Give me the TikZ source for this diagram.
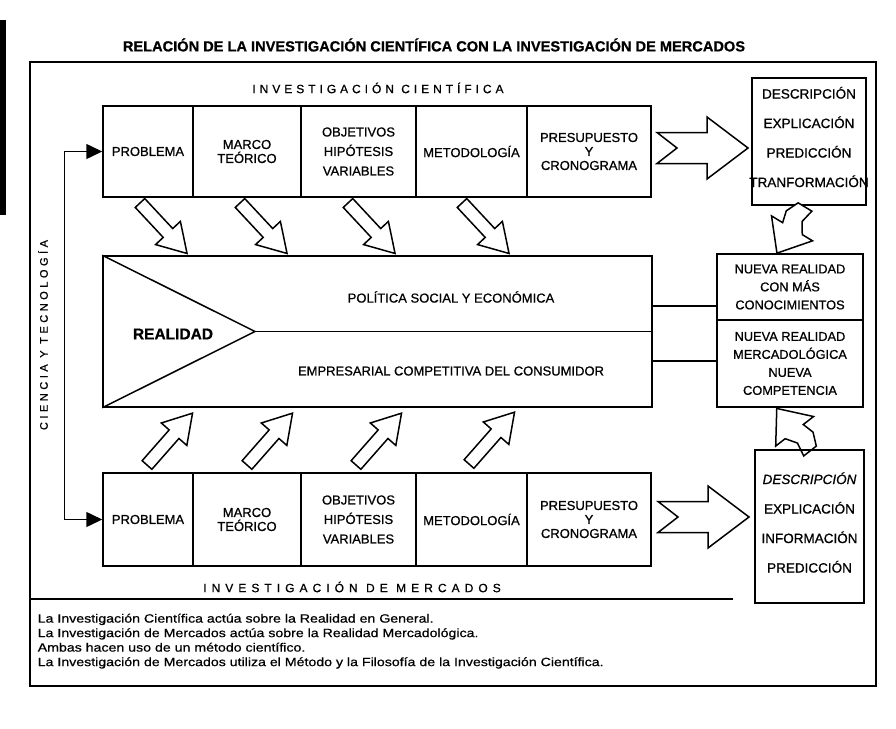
\documentclass[tikz,border=0pt]{standalone}
\usepackage{fontspec}
\setmainfont[FakeBold=0.8]{Liberation Sans}
\newfontfamily\footfont[FakeStretch=1.18,FakeBold=0.6]{Liberation Sans}
\newfontfamily\widefont[LetterSpace=33,FakeBold=0.8]{Liberation Sans}
\newfontfamily\widerfont[LetterSpace=42,FakeBold=0.8]{Liberation Sans}
\newfontfamily\sidefont[LetterSpace=32,FakeBold=0.8]{Liberation Sans}
\usetikzlibrary{arrows.meta}

\tikzset{
  cell/.style={draw,line width=1.5pt,inner sep=0pt,align=center,font=\fontsize{13}{14}\selectfont},
  arrowline/.style={draw,fill=white,line width=1.5pt,line join=miter},
  hollowarrow/.pic={\draw[arrowline] (0,-6.5) -- (41,-6.5) -- (41,-17) -- (69,0) -- (41,17) -- (41,6.5) -- (0,6.5) -- cycle;},
  bigarrow/.pic={\draw[arrowline] (0,-15.5) -- (50,-15.5) -- (50,-31) -- (91,0) -- (50,31) -- (50,15.5) -- (0,15.5) -- (20,0) -- cycle;},
  jagarrow/.pic={\draw[arrowline] (0,-8) -- (14,-5) -- (25,-12) -- (25,-24) -- (54,0) -- (25,24) -- (25,11) -- (13,14) -- (0,8) -- cycle;}
}

\begin{document}
\begin{tikzpicture}[x=1pt,y=-1pt,line width=1.5pt]
  \useasboundingbox (0,0) rectangle (896,728);
  \fill (0,20) rectangle (6,215);

  \node[font=\fontsize{14.6}{17}\selectfont\bfseries] (title) at (434,45) {RELACIÓN DE LA INVESTIGACIÓN CIENTÍFICA CON LA INVESTIGACIÓN DE MERCADOS};
  \draw (30,62) rectangle (876,686);

  \node[font=\widefont\fontsize{12}{14}\selectfont] (ic) at (378,88) {INVESTIGACIÓN CIENTÍFICA};
  \node[font=\sidefont\fontsize{11}{13}\selectfont,rotate=90] (cyt) at (43,335) {CIENCIA Y TECNOLOGÍA};

  % investigacion cientifica
  \node[cell,minimum width=90,minimum height=91] (p1) at (148,151.5) {PROBLEMA};
  \node[cell,minimum width=108,minimum height=91] (p2) at (247,151.5) {MARCO\\TEÓRICO};
  \node[cell,minimum width=115,minimum height=91] (p3) at (358.5,151.5) {OBJETIVOS\\[5.5pt]HIPÓTESIS\\[5.5pt]VARIABLES};
  \node[cell,minimum width=111,minimum height=91] (p4) at (471.5,151.5) {METODOLOGÍA};
  \node[cell,minimum width=124,minimum height=91] (p5) at (589,151.5) {PRESUPUESTO\\Y\\CRONOGRAMA};

  \node[cell,minimum width=114,minimum height=127] (tr) at (809,141.5) {};
  \node[align=center,font=\fontsize{13.5}{14}\selectfont] (trtext) at ([yshift=4.5]tr.center) {DESCRIPCIÓN\\[15.5pt]EXPLICACIÓN\\[15.5pt]PREDICCIÓN\\[15.5pt]TRANFORMACIÓN};
  \pic at (657,148) {bigarrow};

  % realidad
  \node[draw,minimum width=549,minimum height=151,inner sep=0pt] (real) at (377.5,331.5) {};
  \coordinate (apex) at (255,331.5);
  \draw (real.north west) -- (apex) -- (real.south west);
  \draw (apex) -- (real.east |- apex);
  \node[font=\fontsize{15.5}{17}\selectfont\bfseries] (rl) at (173,334) {REALIDAD};
  \node[font=\fontsize{13}{15}\selectfont] (pol) at (451,297) {POLÍTICA SOCIAL Y ECONÓMICA};
  \node[font=\fontsize{13}{15}\selectfont] (emp) at (451,371) {EMPRESARIAL COMPETITIVA DEL CONSUMIDOR};

  \node[cell,font=\fontsize{12.8}{14}\selectfont,minimum width=146,minimum height=66] (nr1) at (790,287) {NUEVA REALIDAD\\[4pt]CON MÁS\\[4pt]CONOCIMIENTOS};
  \node[cell,font=\fontsize{12.8}{14}\selectfont,minimum width=146,minimum height=87] (nr2) at (790,363.5) {NUEVA REALIDAD\\[4pt]MERCADOLÓGICA\\[4pt]NUEVA\\[4pt]COMPETENCIA};
  \coordinate (l1) at (0,306);
  \coordinate (l2) at (0,361);
  \draw[line width=1.2pt] (real.east |- l1) -- (nr1.west |- l1);
  \draw[line width=1.2pt] (real.east |- l2) -- (nr2.west |- l2);

  \pic[rotate=-47] at (140,203) {hollowarrow};
  \pic[rotate=-47] at (240,203) {hollowarrow};
  \pic[rotate=-47] at (348,203) {hollowarrow};
  \pic[rotate=-47] at (462,203) {hollowarrow};

  \pic[rotate=48.7] at (147,465) {hollowarrow};
  \pic[rotate=48.7] at (247,465) {hollowarrow};
  \pic[rotate=48.7] at (356,465) {hollowarrow};
  \pic[rotate=48.7] at (469,464) {hollowarrow};

  \pic[rotate=-121.3] at (805,207) {jagarrow};
  \pic[rotate=128] at (810,451) {jagarrow};

  % investigacion de mercados
  \node[cell,minimum width=90,minimum height=93] (q1) at (148,519.5) {PROBLEMA};
  \node[cell,minimum width=108,minimum height=93] (q2) at (247,519.5) {MARCO\\TEÓRICO};
  \node[cell,minimum width=115,minimum height=93] (q3) at (358.5,519.5) {OBJETIVOS\\[5.5pt]HIPÓTESIS\\[5.5pt]VARIABLES};
  \node[cell,minimum width=111,minimum height=93] (q4) at (471.5,519.5) {METODOLOGÍA};
  \node[cell,minimum width=124,minimum height=93] (q5) at (589,519.5) {PRESUPUESTO\\Y\\CRONOGRAMA};

  \node[cell,minimum width=109,minimum height=153] (br) at (809.5,526.5) {};
  \node[align=center,font=\fontsize{13.5}{14}\selectfont] (brtext) at ([yshift=4]br.center) {\itshape DESCRIPCIÓN\\[15.5pt]EXPLICACIÓN\\[15.5pt]INFORMACIÓN\\[15.5pt]PREDICCIÓN};
  \pic at (658,517) {bigarrow};

  \draw[{Triangle[length=16pt,width=15pt]}-{Triangle[length=16pt,width=15pt]}] (p1.west) -- ++(-38,0) |- (q1.west);

  \node[font=\widerfont\fontsize{12}{14}\selectfont] (im) at (352,587) {INVESTIGACIÓN DE MERCADOS};
  \coordinate (rule) at (733,599);
  \draw (30,599) -- (rule);

  \node[anchor=north west,align=left,inner sep=0pt,font=\footfont\fontsize{12}{14.5}\selectfont] (foot) at (37,613) {La Investigación Científica actúa sobre la Realidad en General.\\
    La Investigación de Mercados actúa sobre la Realidad Mercadológica.\\
    Ambas hacen uso de un método científico.\\
    La Investigación de Mercados utiliza el Método y la Filosofía de la Investigación Científica.};
\end{tikzpicture}
\end{document}
